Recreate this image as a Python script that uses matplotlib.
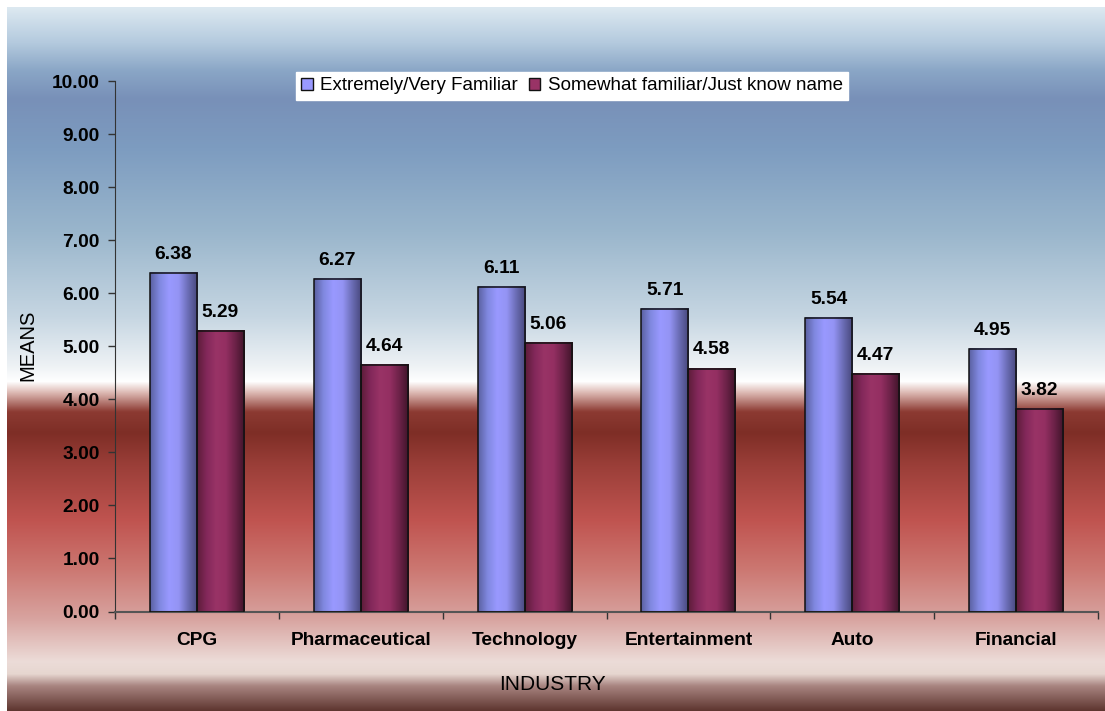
import numpy as np
import matplotlib
matplotlib.use("Agg")
import matplotlib.pyplot as plt
from matplotlib.colors import LinearSegmentedColormap, to_rgb
from matplotlib.patches import Rectangle

plt.rcParams['font.family'] = ['Liberation Sans', 'DejaVu Sans']

categories = ["CPG", "Pharmaceutical", "Technology", "Entertainment", "Auto", "Financial"]
very_familiar = [6.38, 6.27, 6.11, 5.71, 5.54, 4.95]
somewhat_familiar = [5.29, 4.64, 5.06, 4.58, 4.47, 3.82]
series_names = ["Extremely/Very Familiar", "Somewhat familiar/Just know name"]
yticks = [0, 1, 2, 3, 4, 5, 6, 7, 8, 9, 10]

W, H = 1105, 711
fig = plt.figure(figsize=(W / 100, H / 100), dpi=100)
fig.patch.set_facecolor("white")

# vertical background gradient (fraction from top, colour)
bg_stops = [
    (0.000, "#dde9f1"), (0.050, "#b4cade"), (0.090, "#8aa6c6"),
    (0.130, "#7890b8"), (0.200, "#7d9cc0"), (0.320, "#9ab6cc"),
    (0.440, "#c6d6e2"), (0.510, "#eef2f5"), (0.532, "#ffffff"),
    (0.548, "#dcb8b2"), (0.575, "#8c3a32"), (0.605, "#7e2e26"),
    (0.650, "#9a3e38"), (0.730, "#c05450"), (0.800, "#cc7872"),
    (0.870, "#d8a4a0"), (0.930, "#ecdcd8"), (0.948, "#e6d6d0"),
    (0.965, "#a88480"), (1.000, "#5e3630"),
]
top_px, left_px = 7, 7
n = 800
pos = np.linspace(0, 1, n)
cols = np.array([to_rgb(c) for _, c in bg_stops])
ps = np.array([p for p, _ in bg_stops])
grad = np.stack([np.interp(pos, ps, cols[:, k]) for k in range(3)], axis=1)
bg = fig.add_axes([left_px / W, 0, 1 - left_px / W, 1 - top_px / H])
bg.imshow(grad[:, None, :], aspect="auto", extent=[0, 1, 0, 1], origin="upper")
bg.set_axis_off()

# main plotting area
ax_l, ax_r, ax_b, ax_t = 115, 1098, 611.5, 81
ax = fig.add_axes([ax_l / W, 1 - ax_b / H, (ax_r - ax_l) / W, (ax_b - ax_t) / H])
ax.patch.set_alpha(0)
ax.set_xlim(0, len(categories))
ax.set_ylim(0, 10)

bw = 0.287
blue_cmap = LinearSegmentedColormap.from_list(
    "b", ["#5a60a0", "#8088e0", "#9999ff", "#9494f4", "#6a6cb4", "#46467a"])
red_cmap = LinearSegmentedColormap.from_list(
    "r", ["#5c1c38", "#82285a", "#993366", "#942f62", "#6c2248", "#3e1428"])
hgrad = np.linspace(0, 1, 256)[None, :]


def shaded_bar(x0, height, cmap):
    ax.imshow(hgrad, cmap=cmap, aspect="auto", extent=[x0, x0 + bw, 0, height],
              zorder=2, interpolation="bilinear")
    ax.add_patch(Rectangle((x0, 0), bw, height, fill=False, edgecolor="#111111",
                           linewidth=1.1, zorder=3))


lbl_size = 13.8
xs = np.arange(len(categories)) + 0.5
for i, (a, b) in enumerate(zip(very_familiar, somewhat_familiar)):
    shaded_bar(xs[i] - bw, a, blue_cmap)
    shaded_bar(xs[i], b, red_cmap)
    ax.text(xs[i] - bw / 2, a + 0.19, f"{a:.2f}", ha="center", va="bottom",
            fontsize=lbl_size, fontweight="bold", color="black")
    ax.text(xs[i] + bw / 2, b + 0.19, f"{b:.2f}", ha="center", va="bottom",
            fontsize=lbl_size, fontweight="bold", color="black")
ax.set_xlim(0, len(categories))
ax.set_ylim(0, 10)

ax.set_yticks(yticks)
ax.set_yticklabels([f"{v:.2f}" for v in yticks], fontsize=lbl_size, fontweight="bold")
ax.set_xticks(np.arange(len(categories) + 1))
ax.set_xticklabels([])
ax.set_xticks(xs, minor=True)
ax.set_xticklabels(categories, minor=True, fontsize=lbl_size, fontweight="bold")
ax.tick_params(axis="x", which="minor", length=0, pad=15)
ax.tick_params(axis="x", which="major", length=5, direction="out", width=1, color="#333333")
ax.tick_params(axis="y", length=5, width=1, color="#333333", pad=6)
for s in ["top", "right"]:
    ax.spines[s].set_visible(False)
ax.spines["left"].set_color("#333333")
ax.spines["bottom"].set_color("#555555")
ax.spines["bottom"].set_linewidth(1.5)

fig.text(28 / W, 1 - 345 / H, "MEANS", rotation=90, ha="center", va="center", fontsize=14.5)
fig.text(552 / W, 1 - 684 / H, "INDUSTRY", ha="center", va="center", fontsize=15)

handles = [Rectangle((0, 0), 1, 1, facecolor="#9999ff", edgecolor="#111111"),
           Rectangle((0, 0), 1, 1, facecolor="#993366", edgecolor="#111111")]
leg = fig.legend(handles, series_names, loc="center", bbox_to_anchor=(572 / W, 1 - 86 / H),
                 ncol=2, fontsize=13.5, frameon=True, fancybox=False, framealpha=1,
                 edgecolor="white", handlelength=0.6, handleheight=0.6, handletextpad=0.4,
                 columnspacing=0.6, borderpad=0.3)

fig.savefig("out.png", dpi=100)
